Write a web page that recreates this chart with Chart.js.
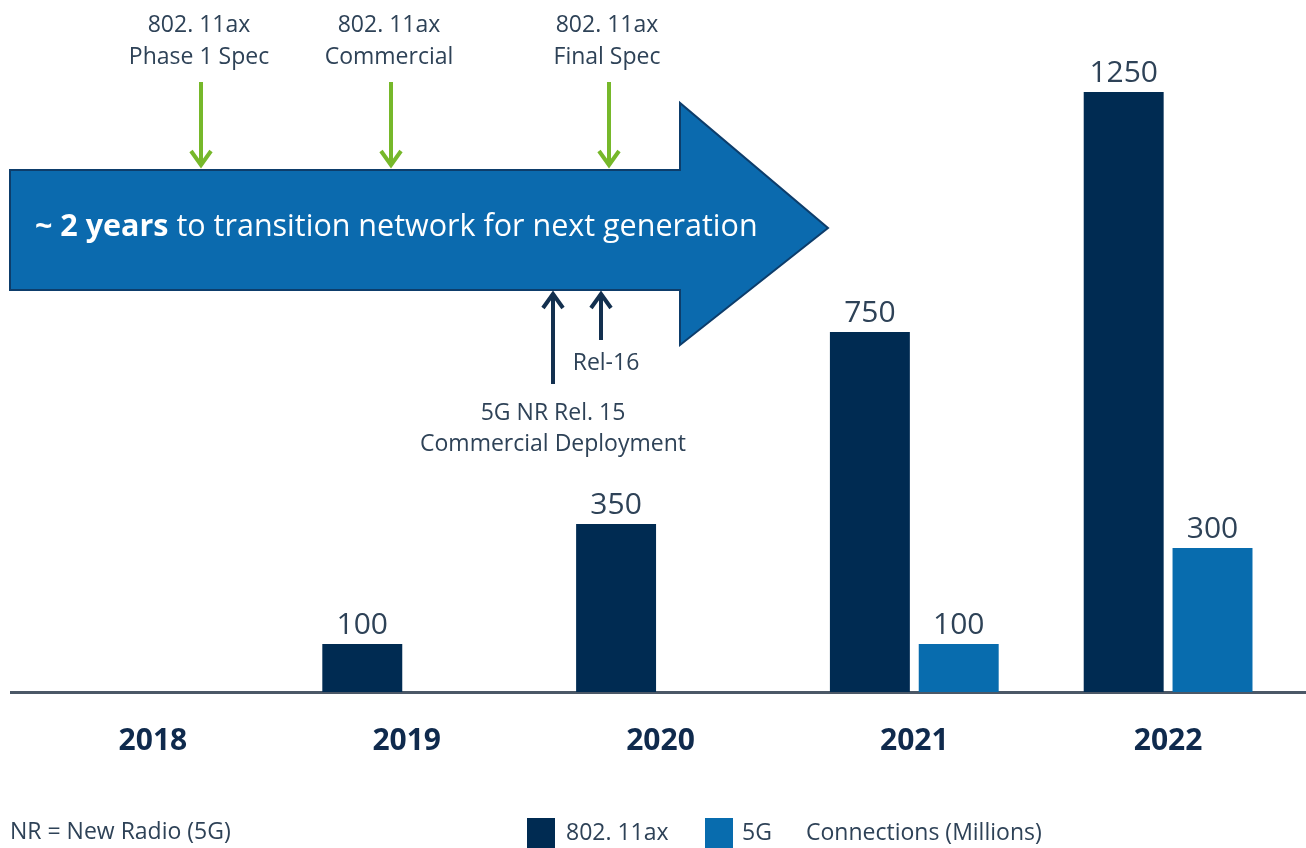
<!DOCTYPE html>
<html>
<head>
<meta charset="utf-8">
<script src="https://cdn.jsdelivr.net/npm/chart.js@4"></script>
<style>
  html, body { margin: 0; padding: 0; background: #fff; }
  #wrap { width: 1306px; height: 848px; }
</style>
</head>
<body>
<div id="wrap"><canvas id="connChart"></canvas></div>
<script>
const years = ['2018', '2019', '2020', '2021', '2022'];
const wifiValues = [null, 100, 350, 750, 1250];
const nrValues = [null, null, null, 100, 300];

const FONT = '"Open Sans", "Noto Sans", sans-serif';
const TEXT = '#2e4257';
const NAVY = '#002b52';
const BLUE = '#086cae';
const GREEN = '#76b82a';

function arrowDown(ctx, x, y1, y2, color) {
    ctx.strokeStyle = color;
    ctx.lineWidth = 4;
    ctx.lineCap = 'butt';
    ctx.beginPath();
    ctx.moveTo(x, y1);
    ctx.lineTo(x, y2 - 2);
    ctx.stroke();
    ctx.beginPath();
    ctx.moveTo(x - 10, y2 - 14);
    ctx.lineTo(x, y2);
    ctx.lineTo(x + 10, y2 - 14);
    ctx.stroke();
}

function arrowUp(ctx, x, y1, y2, color) {
    ctx.strokeStyle = color;
    ctx.lineWidth = 4;
    ctx.beginPath();
    ctx.moveTo(x, y1);
    ctx.lineTo(x, y2 + 2);
    ctx.stroke();
    ctx.beginPath();
    ctx.moveTo(x - 10, y2 + 14);
    ctx.lineTo(x, y2);
    ctx.lineTo(x + 10, y2 + 14);
    ctx.stroke();
}

const overlay = {
    id: 'overlay',
    beforeDatasetsDraw(chart) {
        const ctx = chart.ctx;
        const area = chart.chartArea;
        ctx.save();
        // baseline
        ctx.fillStyle = '#4b5867';
        ctx.fillRect(10, area.bottom - 1, 1296, 3);
        ctx.restore();
    },
    afterDatasetsDraw(chart) {
        const ctx = chart.ctx;
        ctx.save();

        // value labels above bars
        ctx.font = '30px ' + FONT;
        ctx.fillStyle = TEXT;
        ctx.textAlign = 'center';
        ctx.textBaseline = 'alphabetic';
        chart.data.datasets.forEach((ds, i) => {
            chart.getDatasetMeta(i).data.forEach((bar, j) => {
                if (ds.data[j] == null) return;
                ctx.fillText(ds.data[j], bar.x, bar.y - 10);
            });
        });

        // big transition arrow
        ctx.beginPath();
        ctx.moveTo(10, 170);
        ctx.lineTo(680, 170);
        ctx.lineTo(680, 103);
        ctx.lineTo(828, 228);
        ctx.lineTo(680, 345);
        ctx.lineTo(680, 290);
        ctx.lineTo(10, 290);
        ctx.closePath();
        ctx.fillStyle = '#0b6aae';
        ctx.fill();
        ctx.lineWidth = 2;
        ctx.strokeStyle = '#0d3d6b';
        ctx.stroke();

        ctx.textAlign = 'left';
        ctx.textBaseline = 'middle';
        ctx.fillStyle = '#ffffff';
        ctx.font = 'bold 30.5px ' + FONT;
        const bold = '~ 2 years';
        ctx.fillText(bold, 35, 227);
        const bw = ctx.measureText(bold).width;
        ctx.font = '30.5px ' + FONT;
        ctx.fillText(' to transition network for next generation', 35 + bw, 227);

        // green milestones
        const green = [
            { x: 201, lines: ['802. 11ax', 'Phase 1 Spec'] },
            { x: 391, lines: ['802. 11ax', 'Commercial'] },
            { x: 609, lines: ['802. 11ax', 'Final Spec'] }
        ];
        ctx.font = '23px ' + FONT;
        ctx.textAlign = 'center';
        green.forEach(g => {
            ctx.fillStyle = TEXT;
            ctx.fillText(g.lines[0], g.x - 2, 25);
            ctx.fillText(g.lines[1], g.x - 2, 57);
            arrowDown(ctx, g.x, 82, 165, GREEN);
        });

        // 5G milestones
        arrowUp(ctx, 553, 384, 294, '#13304f');
        arrowUp(ctx, 601, 340, 294, '#13304f');
        ctx.fillStyle = TEXT;
        ctx.font = '23px ' + FONT;
        ctx.fillText('Rel-16', 606, 363);
        ctx.fillText('5G NR Rel. 15', 553, 413);
        ctx.fillText('Commercial Deployment', 553, 444);

        // footer + legend
        ctx.textAlign = 'left';
        ctx.font = '23px ' + FONT;
        ctx.fillText('NR = New Radio (5G)', 10, 832);
        const ds = chart.data.datasets;
        ctx.fillStyle = ds[0].backgroundColor;
        ctx.fillRect(527, 818, 28, 30);
        ctx.fillStyle = ds[1].backgroundColor;
        ctx.fillRect(705, 818, 28, 30);
        ctx.fillStyle = TEXT;
        ctx.fillText(ds[0].label, 566, 833);
        ctx.fillText(ds[1].label, 742, 833);
        ctx.fillText('Connections (Millions)', 806, 833);

        ctx.restore();
    }
};

new Chart(document.getElementById('connChart'), {
    type: 'bar',
    data: {
        labels: years,
        datasets: [
            { label: '802. 11ax', data: wifiValues, backgroundColor: NAVY },
            { label: '5G', data: nrValues, backgroundColor: BLUE }
        ]
    },
    options: {
        responsive: true,
        maintainAspectRatio: false,
        animation: false,
        datasets: { bar: { categoryPercentage: 0.70, barPercentage: 0.9 } },
        layout: { padding: { left: 26, right: 11, top: 92, bottom: 0 } },
        plugins: { legend: { display: false }, tooltip: { enabled: false } },
        scales: {
            x: {
                grid: { display: false, drawTicks: false },
                border: { display: false },
                ticks: {
                    color: '#0f2a4d',
                    font: { family: FONT, size: 30, weight: 'bold' },
                    padding: 31
                },
                afterFit(scale) { scale.height = 156; }
            },
            y: {
                display: false,
                min: 0,
                max: 1250
            }
        }
    },
    plugins: [overlay]
});
</script>
</body>
</html>
